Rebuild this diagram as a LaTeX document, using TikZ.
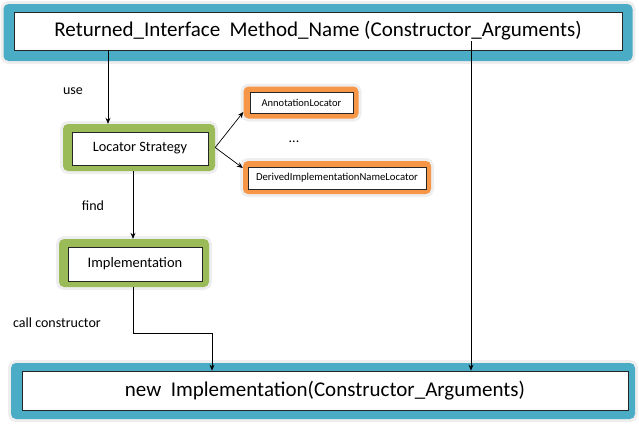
\documentclass[tikz,border=0pt]{standalone}
\usepackage{fontspec}
\setmainfont{Carlito}
\usetikzlibrary{arrows.meta}
\definecolor{cblue}{HTML}{4BACC6}
\definecolor{cgreen}{HTML}{9BBB59}
\definecolor{corange}{HTML}{F79646}
\definecolor{halo}{HTML}{EEEEEE}
\begin{document}
\begin{tikzpicture}[x=1pt,y=-1pt,
  outerbox/.style={preaction={draw=halo,line width=6pt},rounded corners=5pt,inner sep=0pt},
  bluebox/.style={outerbox,fill=cblue},
  greenbox/.style={outerbox,fill=cgreen},
  orangebox/.style={outerbox,fill=corange},
  innerbox/.style={draw=black!85,line width=0.8pt,fill=white,inner sep=0pt},
  lbl/.style={font=\fontsize{14}{16}\selectfont,inner sep=0pt},
  arr/.style={-{Stealth[length=6pt,width=5pt]},line width=0.7pt}]
\useasboundingbox (0,0) rectangle (639,431);
% top
\node[bluebox,minimum width=629pt,minimum height=57pt] (topo) at (318,32.5) {};
\node[innerbox,minimum width=608pt,minimum height=38pt,font=\fontsize{21}{23}\selectfont] (top) at (318,31) {Returned\_Interface\ \ Method\_Name (Constructor\_Arguments)};
% locator strategy
\node[greenbox,minimum width=152pt,minimum height=47pt] (lso) at (139,147.5) {};
\node[innerbox,minimum width=136pt,minimum height=33pt,font=\fontsize{14.3}{16}\selectfont] (ls) at (140,148.5) {Locator Strategy};
% annotation locator
\node[orangebox,minimum width=115pt,minimum height=32pt] (anno) at (301,102.5) {};
\node[innerbox,minimum width=103pt,minimum height=21pt,font=\fontsize{10.5}{12}\selectfont] (ann) at (301.5,103) {AnnotationLocator};
\node[lbl] (dots) at (294,142) {...};
% derived
\node[orangebox,minimum width=188pt,minimum height=33pt] (dero) at (337,177.5) {};
\node[innerbox,minimum width=178pt,minimum height=22pt,font=\fontsize{10.7}{12}\selectfont] (der) at (337,178) {DerivedImplementationNameLocator};
% implementation
\node[greenbox,minimum width=150pt,minimum height=48pt] (impo) at (134,263) {};
\node[innerbox,minimum width=134pt,minimum height=34pt,font=\fontsize{14.5}{16}\selectfont] (imp) at (135,264) {Implementation};
% bottom
\node[bluebox,minimum width=624pt,minimum height=56pt] (newo) at (323,391) {};
\node[innerbox,minimum width=606pt,minimum height=39pt,font=\fontsize{21}{23}\selectfont] (newi) at (325,390.5) {new\ \ Implementation(Constructor\_Arguments)};
% labels
\node[lbl] (use) at (73,91) {use};
\node[lbl] (find) at (93,206) {find};
\node[lbl] (call) at (57,323) {call constructor};
% connectors
\coordinate (u) at (108,0);
\coordinate (f) at (133,0);
\coordinate (cc) at (212,333);
\coordinate (ca) at (471,41);
\draw[arr] (top.south -| u) -- (lso.north -| u);
\draw[arr] (lso.east) -- (anno.west |- 0,112);
\draw[arr] (lso.east) -- (dero.west |- 0,168);
\draw[arr] (lso.south -| f) -- (impo.north -| f);
\draw[arr] (impo.south -| f) |- (cc) -- (cc |- newi.north);
\draw[arr] (ca) -- (ca |- newi.north);
\end{tikzpicture}
\end{document}
